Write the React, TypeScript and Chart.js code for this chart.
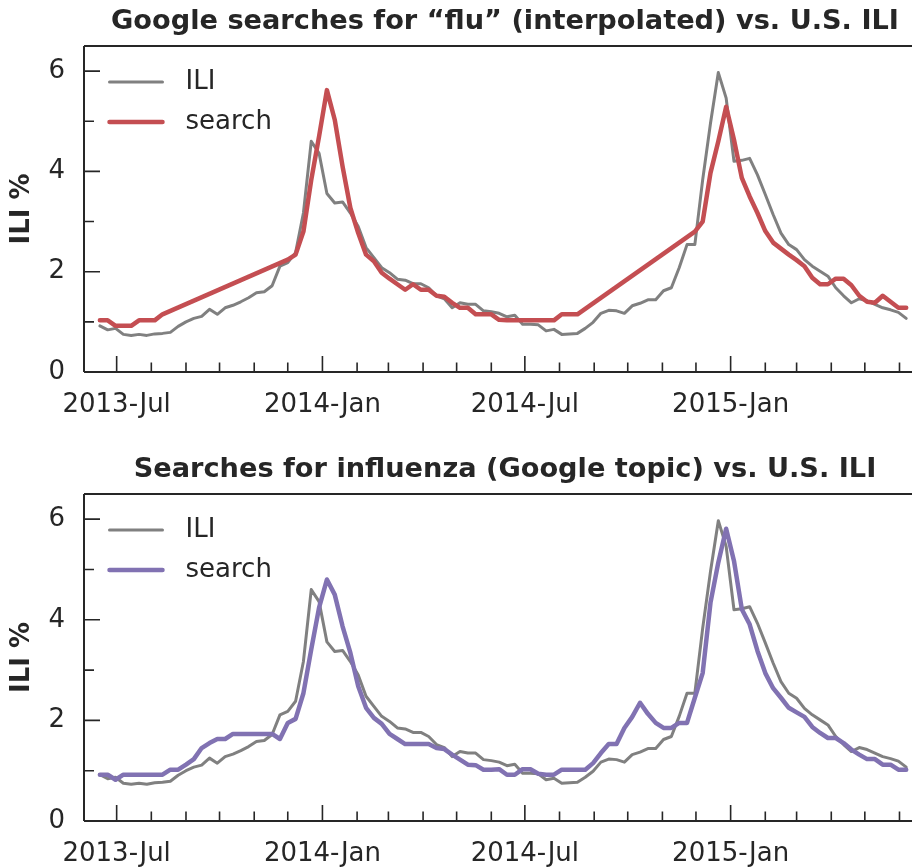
import React, { useEffect, useRef } from "react";
import { Chart, registerables } from "chart.js";

Chart.register(...registerables);

const FONT = "'DejaVu Sans', 'Liberation Sans', sans-serif";
const TEXT = "#262626";

// Week dates (x categories)
const weeks = [
  "2013-06-16", "2013-06-23", "2013-06-30", "2013-07-07", "2013-07-14", "2013-07-21", "2013-07-28",
  "2013-08-04", "2013-08-11", "2013-08-18", "2013-08-25", "2013-09-01", "2013-09-08", "2013-09-15",
  "2013-09-22", "2013-09-29", "2013-10-06", "2013-10-13", "2013-10-20", "2013-10-27", "2013-11-03",
  "2013-11-10", "2013-11-17", "2013-11-24", "2013-12-01", "2013-12-08", "2013-12-15", "2013-12-22",
  "2013-12-29", "2014-01-05", "2014-01-12", "2014-01-19", "2014-01-26", "2014-02-02", "2014-02-09",
  "2014-02-16", "2014-02-23", "2014-03-02", "2014-03-09", "2014-03-16", "2014-03-23", "2014-03-30",
  "2014-04-06", "2014-04-13", "2014-04-20", "2014-04-27", "2014-05-04", "2014-05-11", "2014-05-18",
  "2014-05-25", "2014-06-01", "2014-06-08", "2014-06-15", "2014-06-22", "2014-06-29", "2014-07-06",
  "2014-07-13", "2014-07-20", "2014-07-27", "2014-08-03", "2014-08-10", "2014-08-17", "2014-08-24",
  "2014-08-31", "2014-09-07", "2014-09-14", "2014-09-21", "2014-09-28", "2014-10-05", "2014-10-12",
  "2014-10-19", "2014-10-26", "2014-11-02", "2014-11-09", "2014-11-16", "2014-11-23", "2014-11-30",
  "2014-12-07", "2014-12-14", "2014-12-21", "2014-12-28", "2015-01-04", "2015-01-11", "2015-01-18",
  "2015-01-25", "2015-02-01", "2015-02-08", "2015-02-15", "2015-02-22", "2015-03-01", "2015-03-08",
  "2015-03-15", "2015-03-22", "2015-03-29", "2015-04-05", "2015-04-12", "2015-04-19", "2015-04-26",
  "2015-05-03", "2015-05-10", "2015-05-17", "2015-05-24", "2015-05-31", "2015-06-07",
];

// U.S. ILI %
const iliValues = [
  0.92, 0.84, 0.87, 0.75, 0.73, 0.75, 0.73, 0.76, 0.77, 0.79, 0.91, 1.0, 1.07, 1.11,
  1.25, 1.15, 1.28, 1.33, 1.4, 1.48, 1.58, 1.6, 1.72, 2.11, 2.18, 2.38, 3.17, 4.6,
  4.36, 3.56, 3.37, 3.39, 3.17, 2.9, 2.48, 2.28, 2.08, 1.98, 1.85, 1.83, 1.76, 1.76,
  1.68, 1.52, 1.46, 1.28, 1.38, 1.35, 1.35, 1.22, 1.2, 1.17, 1.1, 1.13, 0.95, 0.95,
  0.94, 0.82, 0.85, 0.75, 0.76, 0.77, 0.87, 0.99, 1.17, 1.23, 1.22, 1.17, 1.32, 1.37,
  1.44, 1.44, 1.62, 1.68, 2.08, 2.54, 2.54, 3.83, 4.96, 5.97, 5.46, 4.2, 4.22, 4.26,
  3.93, 3.54, 3.14, 2.77, 2.54, 2.44, 2.24, 2.11, 2.01, 1.91, 1.68, 1.52, 1.38, 1.46,
  1.42, 1.35, 1.28, 1.24, 1.19, 1.07,
];

// Google searches for "flu" (null = interpolated gap)
const fluSearchValues = [
  1.03, 1.03, 0.92, 0.92, 0.92, 1.03, 1.03, 1.03, 1.15, null, null, null, null, null,
  null, null, null, null, null, null, null, null, null, null, 2.24, 2.34, 2.8, 3.83,
  4.7, 5.62, 5.03, 4.1, 3.27, 2.77, 2.34, 2.21, 1.98, 1.86, 1.75, 1.64, 1.75, 1.64,
  1.64, 1.52, 1.5, 1.38, 1.28, 1.28, 1.15, 1.15, 1.15, 1.04, 1.03, 1.03, 1.03, 1.03,
  1.03, 1.03, 1.03, 1.15, 1.15, 1.15, null, null, null, null, null, null, null, null,
  null, null, null, null, null, null, 2.8, 3.0, 3.97, 4.6, 5.29, 4.63, 3.87, 3.5,
  3.17, 2.81, 2.58, 2.46, 2.34, 2.23, 2.11, 1.88, 1.75, 1.75, 1.86, 1.86, 1.73, 1.52,
  1.4, 1.38, 1.52, 1.4, 1.28, 1.28,
];

// Searches for influenza (Google topic)
const topicSearchValues = [
  0.92, 0.92, 0.82, 0.92, 0.92, 0.92, 0.92, 0.92, 0.92, 1.02, 1.02, 1.12, 1.23, 1.45,
  1.55, 1.63, 1.63, 1.73, 1.73, 1.73, 1.73, 1.73, 1.73, 1.63, 1.95, 2.03, 2.54, 3.41,
  4.24, 4.8, 4.5, 3.87, 3.34, 2.68, 2.25, 2.05, 1.93, 1.73, 1.63, 1.53, 1.53, 1.53,
  1.53, 1.45, 1.43, 1.32, 1.22, 1.12, 1.11, 1.02, 1.02, 1.03, 0.92, 0.92, 1.03, 1.03,
  0.94, 0.92, 0.92, 1.02, 1.02, 1.02, 1.02, 1.15, 1.35, 1.53, 1.53, 1.85, 2.07, 2.35,
  2.13, 1.95, 1.85, 1.85, 1.95, 1.95, 2.45, 2.94, 4.34, 5.14, 5.81, 5.17, 4.21, 3.91,
  3.38, 2.94, 2.64, 2.45, 2.25, 2.16, 2.07, 1.87, 1.75, 1.65, 1.65, 1.55, 1.42, 1.32,
  1.23, 1.23, 1.12, 1.12, 1.02, 1.02,
];

// Axis ticks
const monthTicks = [
  "2013-07-01", "2013-08-01", "2013-09-01", "2013-10-01", "2013-11-01", "2013-12-01",
  "2014-01-01", "2014-02-01", "2014-03-01", "2014-04-01", "2014-05-01", "2014-06-01",
  "2014-07-01", "2014-08-01", "2014-09-01", "2014-10-01", "2014-11-01", "2014-12-01",
  "2015-01-01", "2015-02-01", "2015-03-01", "2015-04-01", "2015-05-01", "2015-06-01",
];
const majorTickDates = ["2013-07-01", "2014-01-01", "2014-07-01", "2015-01-01"];
const majorTickLabels = ["2013-Jul", "2014-Jan", "2014-Jul", "2015-Jan"];
const yTicks = [0, 1, 2, 3, 4, 5, 6];
const yTickLabels = ["0", "", "2", "", "4", "", "6"];

const titleTop = "Google searches for \u201cflu\u201d (interpolated) vs. U.S. ILI";
const titleBottom = "Searches for influenza (Google topic) vs. U.S. ILI";

const toDay = (s: string) =>
  (Date.parse(s + "T00:00:00Z") - Date.parse("2013-01-01T00:00:00Z")) / 86400000;

const majorDays = majorTickDates.map(toDay);

const framePlugin = {
  id: "frame",
  afterDraw(chart: any) {
    const { ctx, chartArea, scales } = chart;
    const { left, right, top, bottom } = chartArea;
    const xs = scales.x;
    const ys = scales.y;
    ctx.save();
    ctx.strokeStyle = TEXT;
    ctx.lineCap = "butt";
    ctx.lineWidth = 1.6;
    ctx.beginPath();
    xs.ticks.forEach((t: any) => {
      const px = xs.getPixelForValue(t.value);
      const len = t.label ? 16 : 9.5;
      ctx.moveTo(px, bottom);
      ctx.lineTo(px, bottom - len);
    });
    ys.ticks.forEach((t: any) => {
      const py = ys.getPixelForValue(t.value);
      const len = t.label ? 16 : 10;
      ctx.moveTo(left, py);
      ctx.lineTo(left + len, py);
    });
    ctx.stroke();
    ctx.lineWidth = 2;
    ctx.beginPath();
    ctx.moveTo(left, top);
    ctx.lineTo(right, top);
    ctx.moveTo(left, top);
    ctx.lineTo(left, bottom);
    ctx.moveTo(left, bottom);
    ctx.lineTo(right, bottom);
    ctx.stroke();

    // legend inside plot area
    chart.data.datasets.forEach((ds: any, i: number) => {
      const y = top + 36 + 40 * i;
      ctx.strokeStyle = ds.borderColor;
      ctx.lineWidth = ds.borderWidth;
      ctx.lineCap = "round";
      ctx.beginPath();
      ctx.moveTo(left + 25.5, y);
      ctx.lineTo(left + 78.5, y);
      ctx.stroke();
      ctx.fillStyle = TEXT;
      ctx.font = `26px ${FONT}`;
      ctx.textBaseline = "middle";
      ctx.textAlign = "left";
      ctx.fillText(ds.label, left + 101.5, y);
    });
    ctx.restore();
  },
};

type PanelProps = {
  title: string;
  search: (number | null)[];
  color: string;
  height: number;
  axisHeight: number;
  top: number;
};

function Panel({ title, search, color, height, axisHeight, top }: PanelProps) {
  const ref = useRef<HTMLCanvasElement>(null);
  useEffect(() => {
    const xDays = weeks.map(toDay);
    const chart = new Chart(ref.current as HTMLCanvasElement, {
      type: "line",
      data: {
        datasets: [
          {
            label: "ILI",
            data: xDays.map((x, i) => ({ x, y: iliValues[i] })),
            borderColor: "#808080",
            borderWidth: 3,
            order: 1,
          },
          {
            label: "search",
            data: xDays.map((x, i) => ({ x, y: search[i] })) as any,
            borderColor: color,
            borderWidth: 4.5,
            order: 0,
            spanGaps: true,
          },
        ],
      },
      options: {
        responsive: false,
        animation: false,
        events: [],
        layout: { padding: 0 },
        elements: {
          point: { radius: 0 },
          line: { tension: 0, fill: false, borderJoinStyle: "round", borderCapStyle: "round" },
        },
        plugins: {
          legend: { display: false },
          tooltip: { enabled: false },
          title: {
            display: true,
            text: title,
            fullSize: false,
            color: TEXT,
            font: { family: FONT, size: 27.2, weight: "bold", lineHeight: 1.2 },
            padding: { top: 6, bottom: 7.36 },
          },
        },
        scales: {
          x: {
            type: "linear",
            min: 151.8,
            max: 904.7,
            grid: { display: false, drawTicks: false },
            border: { display: false },
            afterBuildTicks: (s: any) => {
              s.ticks = monthTicks.map((d) => ({ value: toDay(d) }));
            },
            afterFit: (s: any) => {
              s.height = axisHeight;
            },
            ticks: {
              autoSkip: false,
              maxRotation: 0,
              minRotation: 0,
              padding: 17.5,
              color: TEXT,
              font: { family: FONT, size: 26 },
              callback: (v: any) => {
                const i = majorDays.indexOf(Number(v));
                return i >= 0 ? majorTickLabels[i] : "";
              },
            },
          },
          y: {
            type: "linear",
            min: 0,
            max: 6.5,
            grid: { display: false, drawTicks: false },
            border: { display: false },
            afterBuildTicks: (s: any) => {
              s.ticks = yTicks.map((v) => ({ value: v }));
            },
            afterFit: (s: any) => {
              s.width = 84;
            },
            ticks: {
              padding: 19,
              color: TEXT,
              font: { family: FONT, size: 26 },
              callback: (v: any) => {
                const i = yTicks.indexOf(Number(v));
                return i >= 0 ? yTickLabels[i] : "";
              },
            },
            title: {
              display: true,
              text: "ILI %",
              color: TEXT,
              font: { family: FONT, size: 26, weight: "bold", lineHeight: 1.2 },
              padding: 6.4,
            },
          },
        },
      },
      plugins: [framePlugin],
    } as any);
    return () => chart.destroy();
  }, []);
  return (
    <canvas
      ref={ref}
      width={926}
      height={height}
      style={{ position: "absolute", left: 0, top, display: "block" }}
    />
  );
}

export default function App() {
  return (
    <div
      style={{
        position: "absolute",
        left: 0,
        top: 0,
        width: 912,
        height: 867,
        overflow: "hidden",
        background: "#ffffff",
      }}
    >
      <Panel title={titleTop} search={fluSearchValues} color="#C44E52" height={434} axisHeight={62} top={0} />
      <Panel title={titleBottom} search={topicSearchValues} color="#8172B2" height={419} axisHeight={46} top={448} />
    </div>
  );
}
